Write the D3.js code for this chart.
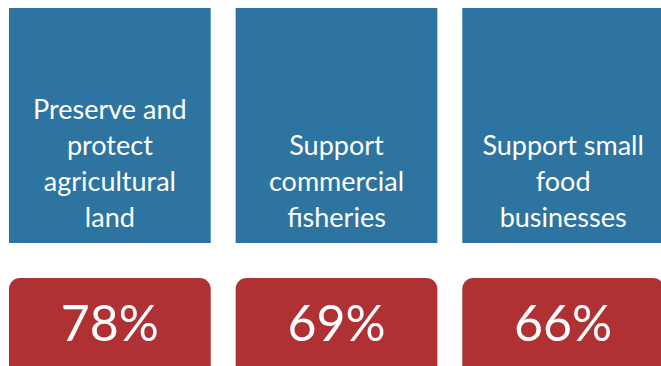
<!DOCTYPE html>
<html>
<head>
<meta charset="utf-8">
<script src="https://cdn.jsdelivr.net/npm/d3@7"></script>
<style>
  html, body { margin: 0; padding: 0; background: #ffffff; overflow: hidden; }
  svg { display: block; }
</style>
</head>
<body>
<svg id="chart" width="661" height="366"></svg>
<script>
// Priorities and the share of respondents supporting each one
const categories = [
  "Preserve and protect agricultural land",
  "Support commercial fisheries",
  "Support small food businesses"
];
const labelLines = [
  ["Preserve and", "protect", "agricultural", "land"],
  ["Support", "commercial", "fisheries"],
  ["Support small", "food", "businesses"]
];
const values = [78, 69, 66];

const width = 661, height = 366;
const blue = "#2e74a0";
const red = "#b03134";
const fontFamily = "Lato, 'Open Sans', sans-serif";

const svg = d3.select("#chart");

const x = d3.scaleBand()
  .domain(categories)
  .range([9, 664])
  .paddingInner(0.11)
  .paddingOuter(0);

const data = categories.map((c, i) => ({ category: c, lines: labelLines[i], value: values[i] }));

// Blue label panels
const panelTop = 8, panelBottom = 243;
const panels = svg.selectAll("g.panel")
  .data(data)
  .join("g")
  .attr("class", "panel")
  .attr("transform", d => `translate(${x(d.category)},0)`);

panels.append("rect")
  .attr("x", 0)
  .attr("y", panelTop)
  .attr("width", x.bandwidth())
  .attr("height", panelBottom - panelTop)
  .attr("fill", blue);

const lineHeight = 36;
panels.append("text")
  .attr("text-anchor", "middle")
  .attr("fill", "#ffffff")
  .attr("font-family", fontFamily)
  .attr("font-size", 27)
  .selectAll("tspan")
  .data(d => d.lines.map((t, j) => ({ t, j, n: d.lines.length })))
  .join("tspan")
  .attr("x", x.bandwidth() / 2)
  .attr("y", d => 227 - (d.n - 1 - d.j) * lineHeight)
  .text(d => d.t);

// Red value badges
const badgeTop = 278;
const badges = svg.selectAll("g.badge")
  .data(data)
  .join("g")
  .attr("class", "badge")
  .attr("transform", d => `translate(${x(d.category)},0)`);

badges.append("rect")
  .attr("x", 0)
  .attr("y", badgeTop)
  .attr("width", x.bandwidth())
  .attr("height", 110)
  .attr("rx", 11)
  .attr("ry", 11)
  .attr("fill", red);

const pct = d3.format(".0f");
badges.append("text")
  .attr("x", x.bandwidth() / 2)
  .attr("y", 341)
  .attr("text-anchor", "middle")
  .attr("fill", "#ffffff")
  .attr("font-family", fontFamily)
  .attr("font-size", 50)
  .text(d => pct(d.value) + "%");
</script>
</body>
</html>
